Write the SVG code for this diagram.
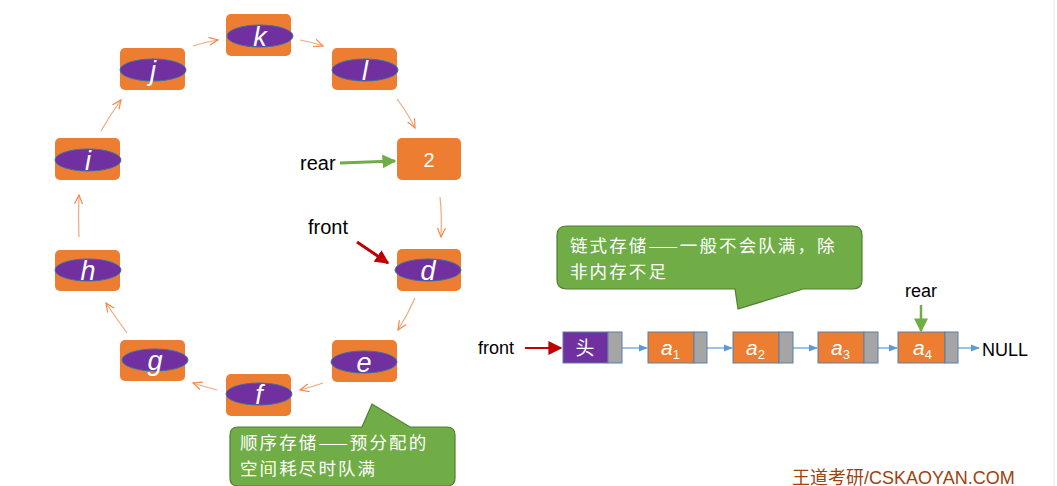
<svg xmlns="http://www.w3.org/2000/svg" width="1057" height="486" viewBox="0 0 1057 486">
<defs>
<style>
.box{fill:#ED7D31;}
.ell{fill:#7030A0;stroke:#41719C;stroke-width:1;}
.lt{fill:#fff;font-family:"Liberation Sans",sans-serif;font-style:italic;font-size:27px;text-anchor:middle;}
.lbl{fill:#000;font-family:"Liberation Sans","Noto Sans CJK SC",sans-serif;font-size:18px;}
.big{font-size:20px;}
.con{fill:none;stroke:#F4A77A;stroke-width:1.2;marker-end:url(#oa);}
.call{fill:#70AD47;stroke:#507E32;stroke-width:1.2;}
.ct{fill:#fff;font-family:"Noto Sans CJK SC",sans-serif;font-size:17.5px;letter-spacing:2.1px;}
.cell{fill:#ED7D31;stroke:#5B7FA6;stroke-width:1;}
.ptr{fill:#A5A5A5;stroke:#5B7FA6;stroke-width:1;}
.lk{fill:none;stroke:#5B9BD5;stroke-width:1.2;marker-end:url(#ba);}
.sub{fill:#fff;font-family:"Liberation Sans",sans-serif;font-size:21px;}
</style>
<marker id="oa" viewBox="0 0 10 10" refX="9" refY="5" markerWidth="10" markerHeight="10" orient="auto" markerUnits="userSpaceOnUse">
<path d="M0,1 L9,5 L0,9" fill="none" stroke="#F08A4B" stroke-width="1.2"/>
</marker>
<marker id="ba" viewBox="0 0 10 10" refX="9" refY="5" markerWidth="9" markerHeight="9" orient="auto" markerUnits="userSpaceOnUse">
<path d="M0,1 L10,5 L0,9 Z" fill="#5B9BD5"/>
</marker>
<marker id="ga" viewBox="0 0 10 10" refX="9" refY="5" markerWidth="14" markerHeight="14" orient="auto" markerUnits="userSpaceOnUse">
<path d="M0,0 L10,5 L0,10 Z" fill="#70AD47"/>
</marker>
<marker id="ra" viewBox="0 0 10 10" refX="9" refY="5" markerWidth="14" markerHeight="14" orient="auto" markerUnits="userSpaceOnUse">
<path d="M0,0 L10,5 L0,10 Z" fill="#C00000"/>
</marker>
</defs>
<rect width="1057" height="486" fill="#fff"/>
<line x1="1054" y1="0" x2="1054" y2="486" stroke="#E8E8E8" stroke-width="1"/>

<g id="connectors">
<path class="con" d="M193,46 Q205,42 218,40"/>
<path class="con" d="M300,40 Q312,42 323,46"/>
<path class="con" d="M397,99 Q407,112 415,128"/>
<path class="con" d="M440,197 Q442,215 441,237"/>
<path class="con" d="M415,298 Q408,314 398,330"/>
<path class="con" d="M323,383 Q312,387 300,390"/>
<path class="con" d="M217,390 Q205,387 193,383"/>
<path class="con" d="M127,333 Q116,318 106,303"/>
<path class="con" d="M79,237 Q78,216 79,195"/>
<path class="con" d="M101,131 Q110,115 121,100"/>
<line x1="340" y1="163" x2="395" y2="161" stroke="#70AD47" stroke-width="3" marker-end="url(#ga)"/>
<line x1="357" y1="242" x2="388" y2="263" stroke="#C00000" stroke-width="3" marker-end="url(#ra)"/>
<line x1="525" y1="348" x2="561" y2="348" stroke="#C00000" stroke-width="2" marker-end="url(#ra)"/>
<line x1="921" y1="305" x2="921" y2="331" stroke="#70AD47" stroke-width="2.5" marker-end="url(#ga)"/>
<line class="lk" x1="622" y1="348" x2="647" y2="348"/>
<line class="lk" x1="707" y1="348" x2="732" y2="348"/>
<line class="lk" x1="793" y1="348" x2="817" y2="348"/>
<line class="lk" x1="878" y1="348" x2="897" y2="348"/>
<line class="lk" x1="958" y1="348" x2="979" y2="348"/>
</g>

<g id="node-k"><rect class="box" x="226" y="14" width="65" height="42" rx="5"/><ellipse class="ell" cx="260" cy="36" rx="33" ry="11"/><text class="lt" x="260" y="46">k</text></g>
<g id="node-j"><rect class="box" x="120" y="48" width="65" height="42" rx="5"/><ellipse class="ell" cx="153" cy="70" rx="33" ry="11"/><text class="lt" x="153" y="80">j</text></g>
<g id="node-l"><rect class="box" x="332" y="48" width="65" height="42" rx="5"/><ellipse class="ell" cx="365" cy="70" rx="33" ry="11"/><text class="lt" x="365" y="80">l</text></g>
<g id="node-2"><rect class="box" x="397" y="138" width="64" height="42" rx="5"/><text x="429" y="167" fill="#fff" font-family="Liberation Sans,sans-serif" font-size="20" text-anchor="middle">2</text></g>
<g id="node-i"><rect class="box" x="55" y="138" width="65" height="42" rx="5"/><ellipse class="ell" cx="88" cy="160" rx="33" ry="11"/><text class="lt" x="88" y="170">i</text></g>
<g id="node-h"><rect class="box" x="55" y="250" width="65" height="41" rx="5"/><ellipse class="ell" cx="88" cy="270" rx="33" ry="11"/><text class="lt" x="88" y="280">h</text></g>
<g id="node-d"><rect class="box" x="397" y="249" width="64" height="42" rx="5"/><ellipse class="ell" cx="428" cy="270" rx="33" ry="11"/><text class="lt" x="428" y="280">d</text></g>
<g id="node-e"><rect class="box" x="332" y="340" width="65" height="42" rx="5"/><ellipse class="ell" cx="364" cy="362" rx="33" ry="11"/><text class="lt" x="364" y="372">e</text></g>
<g id="node-g"><rect class="box" x="120" y="340" width="65" height="41" rx="5"/><ellipse class="ell" cx="155" cy="360" rx="33" ry="11"/><text class="lt" x="155" y="370">g</text></g>
<g id="node-f"><rect class="box" x="226" y="374" width="65" height="42" rx="5"/><ellipse class="ell" cx="259" cy="394" rx="33" ry="11"/><text class="lt" x="259" y="404">f</text></g>

<g id="labels">
<text class="lbl big" x="300" y="170">rear</text>
<text class="lbl big" x="308" y="234">front</text>
<text class="lbl" x="478" y="354">front</text>
<text class="lbl" x="905" y="297">rear</text>
<text class="lbl" x="982" y="356">NULL</text>
</g>

<g id="callout-seq">
<path class="call" d="M238,427 L362,427 L372,404 L410,427 L447,427 Q455,427 455,435 L455,478 Q455,486 447,486 L238,486 Q230,486 230,478 L230,435 Q230,427 238,427 Z"/>
<text class="ct" x="240" y="449">顺序存储——预分配的</text>
<text class="ct" x="240" y="475">空间耗尽时队满</text>
</g>

<g id="callout-link">
<path class="call" d="M567,226 L853,226 Q862,226 862,235 L862,280 Q862,289 853,289 L803,289 L738,309 L735,289 L567,289 Q557,289 557,280 L557,235 Q557,226 567,226 Z"/>
<text class="ct" x="570" y="252">链式存储——一般不会队满，除</text>
<text class="ct" x="570" y="278">非内存不足</text>
</g>

<g id="node-head"><rect x="563" y="332" width="45" height="31" fill="#7030A0" stroke="#5B7FA6" stroke-width="1"/><rect class="ptr" x="608" y="332" width="14" height="31"/><text x="585" y="355" fill="#fff" font-family="Noto Sans CJK SC,sans-serif" font-size="19" text-anchor="middle">头</text></g>
<g id="node-a1"><rect class="cell" x="648" y="332" width="46" height="31"/><rect class="ptr" x="694" y="332" width="13" height="31"/><text class="sub" x="661" y="355" font-style="italic">a<tspan font-size="13" dy="4" font-style="normal">1</tspan></text></g>
<g id="node-a2"><rect class="cell" x="733" y="332" width="46" height="31"/><rect class="ptr" x="779" y="332" width="14" height="31"/><text class="sub" x="746" y="355" font-style="italic">a<tspan font-size="13" dy="4" font-style="normal">2</tspan></text></g>
<g id="node-a3"><rect class="cell" x="818" y="332" width="46" height="31"/><rect class="ptr" x="864" y="332" width="14" height="31"/><text class="sub" x="831" y="355" font-style="italic">a<tspan font-size="13" dy="4" font-style="normal">3</tspan></text></g>
<g id="node-a4"><rect class="cell" x="898" y="332" width="47" height="31"/><rect class="ptr" x="945" y="332" width="13" height="31"/><text class="sub" x="913" y="355" font-style="italic">a<tspan font-size="13" dy="4" font-style="normal">4</tspan></text></g>

<text x="792" y="484" fill="#A0410D" font-family="Liberation Sans,Noto Sans CJK SC,sans-serif" font-size="18">王道考研/CSKAOYAN.COM</text>
</svg>
